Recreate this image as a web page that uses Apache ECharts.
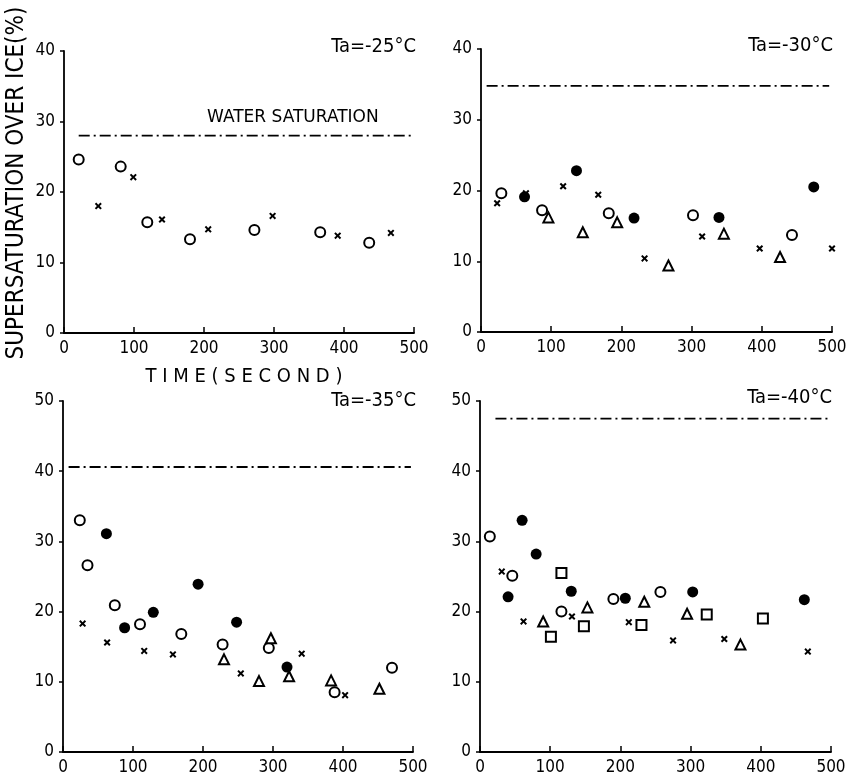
<!DOCTYPE html>
<html>
<head>
<meta charset="utf-8">
<script src="https://cdn.jsdelivr.net/npm/echarts@6/dist/echarts.min.js"></script>
<style>
html,body{margin:0;padding:0;background:#fff;}
#chart{width:850px;height:784px;}
</style>
</head>
<body>
<div id="chart"></div>
<script>
// ---------- data (time in s, supersaturation over ice in %) ----------
const panelTitles = ['Ta=-25°C', 'Ta=-30°C', 'Ta=-35°C', 'Ta=-40°C'];
const xTicks = [0, 100, 200, 300, 400, 500];
const yMaxes = [40, 40, 50, 50];

// water saturation level per panel: [xStart, xEnd, level]
const water25 = [[21, 498], 28.0];
const water30 = [[8, 496], 34.8];
const water35 = [[8, 497], 40.6];
const water40 = [[22, 500], 47.5];

// Ta = -25 C
const t25_open  = [[21,24.6],[81,23.6],[119,15.7],[180,13.3],[272,14.6],[366,14.3],[436,12.8]];
const t25_cross = [[49,18.0],[99,22.1],[140,16.1],[206,14.7],[298,16.6],[391,13.8],[467,14.2]];

// Ta = -30 C
const t30_open   = [[29,19.6],[87,17.2],[182,16.8],[302,16.5],[443,13.7]];
const t30_filled = [[62,19.1],[136,22.8],[218,16.1],[339,16.2],[474,20.5]];
const t30_cross  = [[23,18.2],[64,19.6],[117,20.6],[167,19.4],[233,10.4],[315,13.5],[397,11.8],[500,11.8]];
const t30_tri    = [[96,16.2],[145,14.1],[194,15.5],[267,9.4],[346,13.9],[426,10.6]];

// Ta = -35 C
const t35_open   = [[24,33.0],[35,26.6],[74,20.9],[110,18.2],[169,16.8],[228,15.3],[294,14.8],[388,8.5],[470,12.0]];
const t35_filled = [[62,31.1],[88,17.7],[129,19.9],[193,23.9],[248,18.5],[320,12.1]];
const t35_cross  = [[28,18.3],[63,15.6],[116,14.4],[157,13.9],[254,11.2],[341,14.0],[403,8.1]];
const t35_tri    = [[230,13.2],[280,10.1],[297,16.2],[323,10.8],[383,10.2],[452,9.0]];

// Ta = -40 C
const t40_open   = [[14,30.7],[46,25.1],[116,20.0],[190,21.8],[257,22.8]];
const t40_filled = [[40,22.1],[60,33.0],[80,28.2],[130,22.9],[207,21.9],[303,22.8],[462,21.7]];
const t40_cross  = [[31,25.7],[62,18.6],[131,19.3],[212,18.5],[275,15.9],[348,16.1],[467,14.3]];
const t40_tri    = [[90,18.6],[153,20.6],[234,21.4],[295,19.7],[371,15.3]];
const t40_square = [[116,25.5],[101,16.4],[148,17.9],[230,18.1],[323,19.6],[403,19.0]];

// ---------- chart ----------
const FONT = 'DejaVu Sans Condensed, DejaVu Sans, sans-serif';
const INK = '#000';
const crossPath = 'path://M0,2L2,0L5,3L8,0L10,2L7,5L10,8L8,10L5,7L2,10L0,8L3,5Z';

const grids = [
  {left: 64,  top: 51,  width: 350, height: 282},
  {left: 481, top: 49,  width: 351, height: 283},
  {left: 63,  top: 401, width: 350, height: 351},
  {left: 480, top: 401, width: 351, height: 351}
];

function xAxisFor(i) {
  const ax = {
    gridIndex: i, type: 'value', min: 0, max: 500, interval: 100,
    axisLine: {show: true, onZero: false, lineStyle: {color: INK, width: 1.8}},
    axisTick: {show: true, inside: true, length: 6, lineStyle: {color: INK, width: 1.5}},
    splitLine: {show: false},
    axisLabel: {color: INK, fontSize: 17, fontFamily: FONT, margin: 7,
      customValues: xTicks}
  };
  if (i === 0) {
    ax.name = 'T I M E ( S E C O N D )';
    ax.nameLocation = 'middle';
    ax.nameGap = 34;
    ax.nameTextStyle = {color: INK, fontSize: 20, fontFamily: FONT, padding: [0, 0, 0, 10]};
  }
  return ax;
}
function yAxisFor(i) {
  const ax = {
    gridIndex: i, type: 'value', min: 0, max: yMaxes[i], interval: 10,
    axisLine: {show: true, onZero: false, lineStyle: {color: INK, width: 1.8}},
    axisTick: {show: true, inside: false, length: 4, lineStyle: {color: INK, width: 1.5}},
    splitLine: {show: false},
    axisLabel: {color: INK, fontSize: 17, fontFamily: FONT, margin: 9}
  };
  if (i === 0) {
    ax.name = 'SUPERSATURATION OVER ICE(%)';
    ax.nameLocation = 'middle';
    ax.nameGap = 35;
    ax.nameTextStyle = {color: INK, fontSize: 24, fontFamily: FONT, padding: [0, 0, 0, 18]};
  }
  return ax;
}

function scatter(i, data, kind) {
  const s = {type: 'scatter', xAxisIndex: i, yAxisIndex: i, data: data, silent: true, z: 3};
  if (kind === 'open') {
    s.symbol = 'circle'; s.symbolSize = 10;
    s.itemStyle = {color: '#fff', borderColor: INK, borderWidth: 2, opacity: 1};
  } else if (kind === 'filled') {
    s.symbol = 'circle'; s.symbolSize = 11;
    s.itemStyle = {color: INK, opacity: 1};
  } else if (kind === 'cross') {
    s.symbol = crossPath; s.symbolSize = 7;
    s.itemStyle = {color: INK, opacity: 1};
  } else if (kind === 'tri') {
    s.symbol = 'triangle'; s.symbolSize = 10;
    s.itemStyle = {color: '#fff', borderColor: INK, borderWidth: 2, opacity: 1};
  } else if (kind === 'square') {
    s.symbol = 'rect'; s.symbolSize = 10;
    s.itemStyle = {color: '#fff', borderColor: INK, borderWidth: 2, opacity: 1};
  }
  return s;
}
function waterLine(i, w) {
  return {
    type: 'line', xAxisIndex: i, yAxisIndex: i, silent: true, symbol: 'none', z: 2,
    data: [[w[0][0], w[1]], [w[0][1], w[1]]],
    lineStyle: {color: INK, width: 1.8, type: [11, 4, 2, 4]}
  };
}

const series = [
  waterLine(0, water25), waterLine(1, water30), waterLine(2, water35), waterLine(3, water40),
  scatter(0, t25_open, 'open'), scatter(0, t25_cross, 'cross'),
  scatter(1, t30_open, 'open'), scatter(1, t30_filled, 'filled'), scatter(1, t30_cross, 'cross'), scatter(1, t30_tri, 'tri'),
  scatter(2, t35_open, 'open'), scatter(2, t35_filled, 'filled'), scatter(2, t35_cross, 'cross'), scatter(2, t35_tri, 'tri'),
  scatter(3, t40_open, 'open'), scatter(3, t40_filled, 'filled'), scatter(3, t40_cross, 'cross'), scatter(3, t40_tri, 'tri'), scatter(3, t40_square, 'square')
];

const titleStyle = {color: INK, fontSize: 20, fontFamily: FONT, fontWeight: 'normal'};
const option = {
  backgroundColor: '#fff',
  animation: false,
  title: [
    {text: panelTitles[0], right: 434, top: 37, textStyle: titleStyle, padding: 0},
    {text: panelTitles[1], right: 17,  top: 36, textStyle: titleStyle, padding: 0},
    {text: panelTitles[2], right: 434, top: 391, textStyle: titleStyle, padding: 0},
    {text: panelTitles[3], right: 18,  top: 388, textStyle: titleStyle, padding: 0},
    {text: 'WATER SATURATION', left: 207, top: 109, padding: 0,
     textStyle: {color: INK, fontSize: 17, fontFamily: 'DejaVu Sans, sans-serif', fontWeight: 'normal'}}
  ],
  grid: grids,
  xAxis: [0, 1, 2, 3].map(xAxisFor),
  yAxis: [0, 1, 2, 3].map(yAxisFor),
  series: series
};

const chart = echarts.init(document.getElementById('chart'), null, {renderer: 'canvas'});
chart.setOption(option);
</script>
</body>
</html>
